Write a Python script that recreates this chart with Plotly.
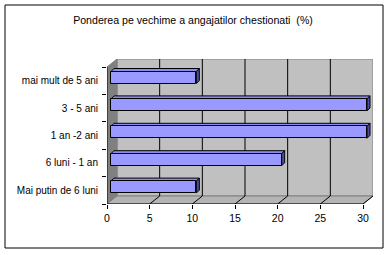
import plotly.graph_objects as go

categories = ["Mai putin de 6 luni", "6 luni - 1 an", "1 an -2 ani", "3 - 5 ani", "mai mult de 5 ani"]
values = [10, 20, 30, 30, 10]
x_ticks = [0, 5, 10, 15, 20, 25, 30]
title = "Ponderea pe vechime a angajatilor chestionati  (%)"

W, H = 391, 255
L, R, T, B = 107, 18, 59, 51
PW, PH = W - L - R, H - T - B
XMAX = 30
SX = 256 / XMAX          # px per unit along x
SY = 27.4                # px per category
DX, DY = 10 / SX, 8 / SY  # full depth offset in data units
xr = [0, PW / SX]
yr = [-0.5, -0.5 + PH / SY]

ypos = list(range(len(categories)))
dep = 0.4
bx0 = dep * DX
by0 = dep * DY
bh = 12 / SY
ddx, ddy = 3 / SX, 3 / SY

shapes = []
def poly(pts, fill, line="black", width=1, layer="below"):
    d = "M " + " L ".join(f"{x},{y}" for x, y in pts) + " Z"
    shapes.append(dict(type="path", path=d, xref="x", yref="y", fillcolor=fill,
                       line=dict(color=line, width=width), layer=layer))

n = len(categories)
ylo, yhi = -0.5, n - 0.5
# back wall
poly([(DX, ylo + DY), (XMAX + DX, ylo + DY), (XMAX + DX, yhi + DY), (DX, yhi + DY)], "#C0C0C0", "#808080")
# left wall
poly([(0, ylo), (DX, ylo + DY), (DX, yhi + DY), (0, yhi)], "#808080", "#808080")
# floor
poly([(0, ylo), (XMAX, ylo), (XMAX + DX, ylo + DY), (DX, ylo + DY)], "#B4B4B4", "#808080")
# gridlines on back wall and floor diagonals
for t in x_ticks[1:-1]:
    shapes.append(dict(type="line", xref="x", yref="y", x0=t + DX, x1=t + DX, y0=ylo + DY, y1=yhi + DY,
                       line=dict(color="black", width=1), layer="below"))
for t in x_ticks[1:]:
    shapes.append(dict(type="line", xref="x", yref="y", x0=t, x1=t + DX, y0=ylo, y1=ylo + DY,
                       line=dict(color="black", width=1), layer="below"))
# axis lines
shapes.append(dict(type="line", xref="x", yref="y", x0=0, x1=XMAX, y0=ylo, y1=ylo, line=dict(color="black", width=1)))
shapes.append(dict(type="line", xref="x", yref="y", x0=0, x1=0, y0=ylo, y1=yhi, line=dict(color="black", width=1)))

# bar side faces
for yc, v in zip(ypos, values):
    yt = yc + by0 + bh / 2
    yb = yc + by0 - bh / 2
    x1 = bx0 + v
    poly([(bx0, yt), (x1, yt), (x1 + ddx, yt + ddy), (bx0 + ddx, yt + ddy)], "#8C8CEE")
    poly([(x1, yb), (x1, yt), (x1 + ddx, yt + ddy), (x1 + ddx, yb + ddy)], "#4C4CA0")

# outer border (paper coords)
def px_x(p): return (p - L) / PW
def px_y(p): return (H - B - p) / PH
shapes.append(dict(type="rect", xref="paper", yref="paper", x0=px_x(5), x1=px_x(383), y0=px_y(248), y1=px_y(5),
                   line=dict(color="black", width=1), fillcolor="rgba(0,0,0,0)", layer="above"))

fig = go.Figure()
fig.add_trace(go.Bar(
    orientation="h", x=values, y=[p + by0 for p in ypos], base=bx0, width=bh,
    marker=dict(color="#9999FF", line=dict(color="black", width=1)),
    hoverinfo="skip", showlegend=False,
))

FAM = "Liberation Sans, Arial, sans-serif"
fig.update_layout(
    width=W, height=H, margin=dict(l=L, r=R, t=T, b=B),
    paper_bgcolor="white", plot_bgcolor="rgba(0,0,0,0)",
    font=dict(family=FAM, size=10.5, color="black"), showlegend=False, shapes=shapes,
    title=dict(text=title, x=193 / W, xanchor="center", y=1 - 20 / H, yanchor="middle",
               font=dict(family=FAM, size=10.6, color="black")),
    xaxis=dict(range=xr, tickmode="array", tickvals=x_ticks, ticktext=[str(t) for t in x_ticks],
               showgrid=False, zeroline=False, showline=False, ticks="outside", ticklen=4,
               tickcolor="black", fixedrange=True, tickfont=dict(size=10.5)),
    yaxis=dict(range=yr, tickmode="array", tickvals=ypos, ticktext=categories,
               showgrid=False, zeroline=False, showline=False,
               ticks="outside", ticklen=3, tickcolor="rgba(0,0,0,0)", ticklabelstandoff=3,
               tickfont=dict(size=10),
               minor=dict(tickmode="array", tickvals=[p - 0.5 for p in ypos] + [n - 0.5],
                          ticks="outside", ticklen=4, tickcolor="black", showgrid=False),
               fixedrange=True),
    bargap=0,
)
fig.write_html("out.html")
